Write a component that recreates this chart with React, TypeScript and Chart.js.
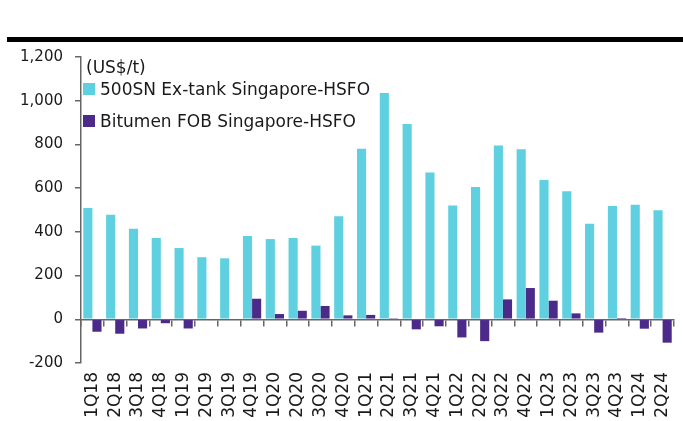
import React, { useEffect, useRef } from "react";
import { Chart, registerables } from "chart.js";

Chart.register(...registerables);

const categories = [
  "1Q18", "2Q18", "3Q18", "4Q18", "1Q19", "2Q19", "3Q19", "4Q19",
  "1Q20", "2Q20", "3Q20", "4Q20", "1Q21", "2Q21", "3Q21", "4Q21",
  "1Q22", "2Q22", "3Q22", "4Q22", "1Q23", "2Q23", "3Q23", "4Q23",
  "1Q24", "2Q24",
];

const baseOilSpread = [
  509, 478, 414, 372, 326, 284, 279, 381,
  367, 372, 337, 471, 780, 1035, 893, 671,
  521, 605, 795, 778, 637, 586, 437, 518,
  524, 499,
];

const bitumenSpread = [
  -57, -66, -42, -18, -42, -3, 0, 94,
  24, 39, 61, 18, 20, 5, -46, -32,
  -83, -100, 91, 143, 85, 27, -61, 6,
  -43, -107,
];

const seriesNames = ["500SN Ex-tank Singapore-HSFO", "Bitumen FOB Singapore-HSFO"];
const seriesColors = ["#5fd0e0", "#4b2a8a"];
const unitLabel = "(US$/t)";
const yTicks = { min: -200, max: 1200, step: 200 };

const FONT = "'DejaVu Sans', sans-serif";

const legendPlugin = {
  id: "insideLegend",
  afterDraw(chart: any) {
    const ctx = chart.ctx;
    ctx.save();
    ctx.fillStyle = "#1a1a1a";
    ctx.font = "17px " + FONT;
    ctx.textBaseline = "alphabetic";
    ctx.textAlign = "left";
    ctx.fillText(unitLabel, 86, 73);
    chart.data.datasets.forEach((ds: any, i: number) => {
      const top = 83 + i * 32;
      ctx.fillStyle = ds.backgroundColor;
      ctx.fillRect(83, top, 12, 12);
      ctx.fillStyle = "#1a1a1a";
      ctx.fillText(ds.label, 100, top + 12);
    });
    ctx.restore();
  },
};

const noPad = (scale: any) => {
  scale.paddingLeft = 0;
  scale.paddingRight = 0;
  scale.paddingTop = 0;
  scale.paddingBottom = 0;
};

export default function App() {
  const ref = useRef<HTMLCanvasElement | null>(null);

  useEffect(() => {
    if (!ref.current) return;
    const chart = new Chart(ref.current, {
      type: "bar",
      data: {
        labels: categories,
        datasets: [
          {
            label: seriesNames[0],
            data: baseOilSpread,
            backgroundColor: seriesColors[0],
            xAxisID: "x",
          },
          {
            label: seriesNames[1],
            data: bitumenSpread,
            backgroundColor: seriesColors[1],
            xAxisID: "x",
          },
        ],
      },
      options: {
        animation: false,
        responsive: true,
        maintainAspectRatio: false,
        layout: { padding: { top: 57, right: 9, bottom: 0, left: 0 } },
        datasets: {
          bar: { categoryPercentage: 0.8, barPercentage: 1.0 },
        },
        plugins: {
          legend: { display: false },
          tooltip: { enabled: false },
          title: { display: false },
        },
        scales: {
          x: {
            type: "category",
            position: { y: 0 } as any,
            offset: true,
            z: 1,
            afterFit: (scale: any) => {
              noPad(scale);
            },
            grid: {
              offset: true,
              drawOnChartArea: false,
              drawTicks: true,
              tickLength: 6,
              color: "#666",
              lineWidth: 1.5,
            },
            border: { display: true, color: "#666", width: 1.5 },
            ticks: { display: false },
          },
          x2: {
            type: "category",
            position: "bottom",
            offset: true,
            afterFit: (scale: any) => {
              noPad(scale);
              scale.height = 58;
            },
            grid: { display: false, drawTicks: false },
            border: { display: false },
            ticks: {
              minRotation: 90,
              maxRotation: 90,
              autoSkip: false,
              padding: 9,
              color: "#1a1a1a",
              font: { family: FONT, size: 17 },
            },
          },
          y: {
            min: yTicks.min,
            max: yTicks.max,
            afterFit: (scale: any) => {
              noPad(scale);
              scale.width = 81;
            },
            ticks: {
              stepSize: yTicks.step,
              padding: 12,
              color: "#1a1a1a",
              font: { family: FONT, size: 15 },
            },
            grid: {
              drawOnChartArea: false,
              drawTicks: true,
              tickLength: 6,
              color: "#666",
              lineWidth: 1.5,
            },
            border: { display: true, color: "#666", width: 1.5 },
          },
        },
      },
      plugins: [legendPlugin],
    });
    return () => chart.destroy();
  }, []);

  return (
    <div
      style={{
        position: "fixed",
        left: 0,
        top: 0,
        width: 683,
        height: 421,
        overflow: "hidden",
        background: "#fff",
      }}
    >
      <div
        style={{
          position: "absolute",
          left: 7,
          top: 37,
          width: 676,
          height: 5,
          background: "#000",
        }}
      />
      <div style={{ position: "absolute", left: 0, top: 0, width: 683, height: 421 }}>
        <canvas ref={ref} />
      </div>
    </div>
  );
}
